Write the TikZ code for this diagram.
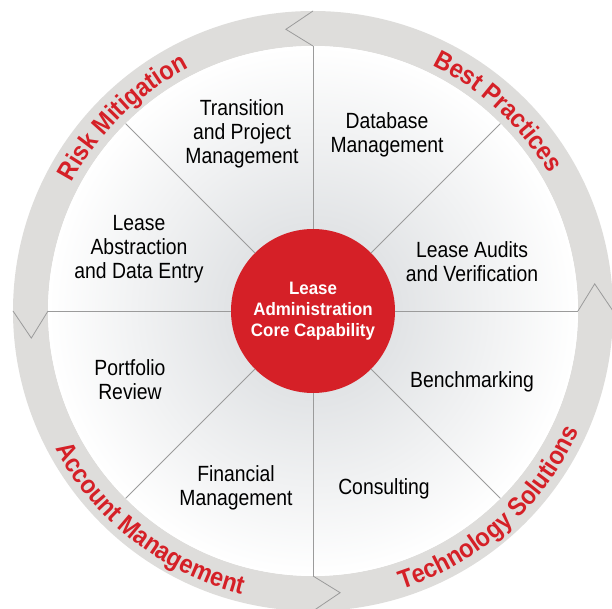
\documentclass[tikz,border=0pt]{standalone}
\usepackage{fontspec}
\setmainfont{Liberation Sans}
\newfontfamily\areafont{Liberation Sans}[FakeStretch=0.88]
\newfontfamily\corefont{Liberation Sans}[FakeStretch=0.94]
\newfontfamily\ringfamily{Liberation Sans}[FakeStretch=0.9]
\usetikzlibrary{decorations.text}
\definecolor{ringred}{RGB}{213,32,39}
\definecolor{ringgray}{RGB}{222,221,219}
\definecolor{spokegray}{RGB}{155,155,155}
\definecolor{discgray}{RGB}{212,215,218}
\newcommand\ringfont{\ringfamily\bfseries\fontsize{26}{28}\selectfont}
\tikzset{
  spoke/.style={draw=spokegray, line width=0.8pt},
  area/.style={align=center, text=black, font=\areafont\fontsize{22}{24}\selectfont},
  ringlabel/.style={decorate, decoration={text along path, text align=center, text color=ringred, text={|\ringfont|#1}}}
}
\begin{document}
\begin{tikzpicture}[x=1pt, y=1pt, inner sep=0pt, outer sep=0pt]
  \useasboundingbox (-313,-298) rectangle (299,311);
  \fill[ringgray, even odd rule] (0,0) circle (300) (0,0) circle (265);
  \shade[inner color=discgray, outer color=white] (0,0) circle (265);
  \node[circle, fill=ringred, minimum size=164pt, align=center, text=white, font=\corefont\bfseries\fontsize{18}{21}\selectfont] (core) at (0,0) {Lease\\Administration\\Core Capability};
  \foreach \a in {0,45,...,315}
    \draw[spoke] (core.\a) -- (\a:265);
  \foreach \a in {0,90,180,270}
    \draw[spoke, line join=miter] (\a:300) -- (\a+5.5:283) -- (\a:265);
  \node[area] (trans) at (-71,177) {Transition\\and Project\\Management};
  \node[area] (dbase) at (74,176) {Database\\Management};
  \node[area] (audit) at (159,49) {Lease Audits\\and Verification};
  \node[area] (abstr) at (-174,62) {Lease\\Abstraction\\and Data Entry};
  \node[area] (port) at (-183,-69) {Portfolio\\Review};
  \node[area] (fin) at (-77,-177) {Financial\\Management};
  \node[area] (consult) at (71,-178) {Consulting};
  \node[area] (bench) at (159,-71) {Benchmarking};
  \path[ringlabel={Risk Mitigation}] (174.5:273) arc[start angle=174.5, end angle=94.5, radius=273];
  \path[ringlabel={Best Practices}] (87.2:273) arc[start angle=87.2, end angle=7.2, radius=273];
  \path[ringlabel={Account Management}] (192:292) arc[start angle=192, end angle=272, radius=292];
  \path[ringlabel={Technology Solutions}] (271.7:292) arc[start angle=271.7, end angle=351.7, radius=292];
\end{tikzpicture}
\end{document}
